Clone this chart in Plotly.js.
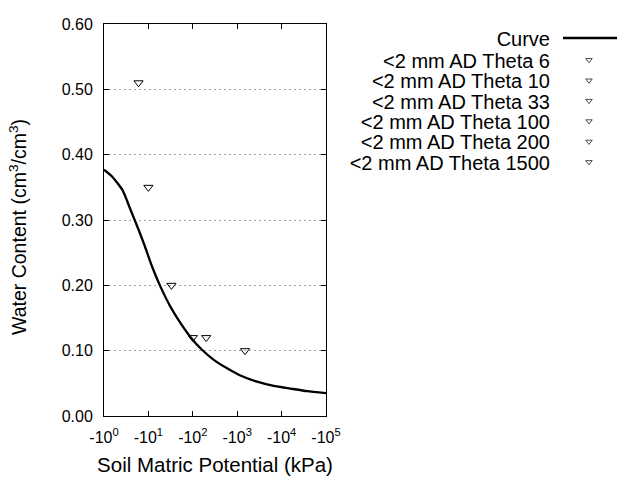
<!DOCTYPE html>
<html>
<head>
<meta charset="utf-8">
<script src="https://cdn.plot.ly/plotly-3.0.1.min.js"></script>
<style>
  html, body { margin: 0; padding: 0; background: #fff; }
  #chart { width: 640px; height: 480px; }
</style>
</head>
<body>
<div id="chart"></div>
<script>
// ---- data ----
const curveName = 'Curve';
const curvePotential = [1, 1.5, 2.6, 4.0, 6.1, 7.9, 12.2, 18.7, 31.5, 53, 88, 163, 297, 593, 1180, 2800, 6650, 15800, 37700, 100000];
const curveTheta = [0.377, 0.367, 0.346, 0.315, 0.284, 0.264, 0.228, 0.198, 0.167, 0.142, 0.121, 0.101, 0.086, 0.073, 0.062, 0.0525, 0.046, 0.042, 0.038, 0.035];

const pointNames = ['<2 mm AD Theta 6', '<2 mm AD Theta 10', '<2 mm AD Theta 33', '<2 mm AD Theta 100', '<2 mm AD Theta 200', '<2 mm AD Theta 1500'];
const pointPotential = [6, 10, 33, 100, 200, 1500];
const pointTheta = [0.51, 0.35, 0.20, 0.12, 0.12, 0.10];

const xTickVals = [1, 10, 100, 1000, 10000, 100000];
const xTickText = ['-10<sup>0</sup>', '-10<sup>1</sup>', '-10<sup>2</sup>', '-10<sup>3</sup>', '-10<sup>4</sup>', '-10<sup>5</sup>'];
const yTickVals = [0, 0.1, 0.2, 0.3, 0.4, 0.5, 0.6];

const xTitle = 'Soil Matric Potential (kPa)';
const yTitle = 'Water Content (cm<sup>3</sup>/cm<sup>3</sup>)';

// ---- traces ----
const FONT = 'Liberation Sans, Arial, sans-serif';
const traces = [{
  type: 'scatter', mode: 'lines', name: curveName,
  x: curvePotential, y: curveTheta,
  line: { color: '#000', width: 2.3, shape: 'spline', smoothing: 0.5 }
}];
pointNames.forEach((nm, i) => {
  traces.push({
    type: 'scatter', mode: 'markers', name: nm,
    x: [pointPotential[i]], y: [pointTheta[i]],
    marker: { symbol: 'triangle-down-open', size: 8, color: '#000', line: { width: 1, color: '#000' } }
  });
});

const layout = {
  width: 640, height: 480,
  paper_bgcolor: '#fff', plot_bgcolor: '#fff',
  margin: { l: 104, r: 314, t: 24, b: 64, autoexpand: false },
  font: { family: FONT, color: '#000' },
  showlegend: true,
  legend: {
    xref: 'container', yref: 'container', x: 0.55, y: 0.95, xanchor: 'left', yanchor: 'top',
    font: { family: FONT, size: 20, color: '#000' }, bgcolor: 'rgba(0,0,0,0)', borderwidth: 0
  },
  xaxis: {
    type: 'log', range: [0, 5],
    tickmode: 'array', tickvals: xTickVals, ticktext: xTickText,
    ticks: 'inside', ticklen: 5, tickwidth: 1, tickcolor: '#000',
    showline: true, linecolor: '#000', linewidth: 1, mirror: 'ticks',
    showgrid: false, zeroline: false,
    tickfont: { family: FONT, size: 16, color: '#000' },
    ticklabelstandoff: 7,
    title: { text: xTitle, font: { family: FONT, size: 20.5, color: '#000' }, standoff: 12 }
  },
  yaxis: {
    range: [0, 0.6],
    tickmode: 'array', tickvals: yTickVals, tickformat: '.2f',
    ticks: 'inside', ticklen: 5, tickwidth: 1, tickcolor: '#000',
    showline: true, linecolor: '#000', linewidth: 1, mirror: 'ticks',
    showgrid: true, gridcolor: '#a0a0a0', gridwidth: 1, griddash: '2px,3px',
    zeroline: false,
    tickfont: { family: FONT, size: 16, color: '#000' },
    ticklabelstandoff: 7,
    title: { text: yTitle, font: { family: FONT, size: 19.5, color: '#000' }, standoff: 29 }
  }
};

// Legend placement (reference style: text right-aligned, sample to its right)
const LEG_X = 563, LEG_Y0 = 38, LEG_Y1 = 60, LEG_DY = 20.4, LEG_TEXT_GAP = 13, LEG_LINE = 54;
const YTITLE_SHIFT = 7;

const gd = document.getElementById('chart');
Plotly.newPlot(gd, traces, layout, { staticPlot: true, displayModeBar: false }).then(() => {
  const yt = gd.querySelector('text.ytitle');
  if (yt) yt.setAttribute('transform', 'translate(0,' + YTITLE_SHIFT + ') ' + (yt.getAttribute('transform') || ''));
  const legend = gd.querySelector('g.legend');
  if (!legend) return;
  legend.querySelectorAll('[clip-path]').forEach(el => el.removeAttribute('clip-path'));
  const bg = legend.querySelector('rect.bg');
  if (bg) bg.setAttribute('visibility', 'hidden');
  legend.querySelectorAll('g.traces').forEach((g, i) => {
    const pm = g.parentNode.getCTM();
    const X = LEG_X, Y = i === 0 ? LEG_Y0 : LEG_Y1 + (i - 1) * LEG_DY;
    g.setAttribute('transform', 'translate(' + (X - pm.e) + ',' + (Y - pm.f) + ')');
    const t = g.querySelector('text.legendtext');
    if (t) { t.setAttribute('text-anchor', 'end'); t.setAttribute('x', -LEG_TEXT_GAP); }
    g.querySelectorAll('.legendlines path').forEach(p => p.setAttribute('d', 'M0,0h' + LEG_LINE));
    g.querySelectorAll('.legendsymbols path.scatterpts').forEach(p =>
      p.setAttribute('transform', 'translate(' + (LEG_LINE / 2 - 1) + ',0) scale(0.7)'));
  });
});
</script>
</body>
</html>
